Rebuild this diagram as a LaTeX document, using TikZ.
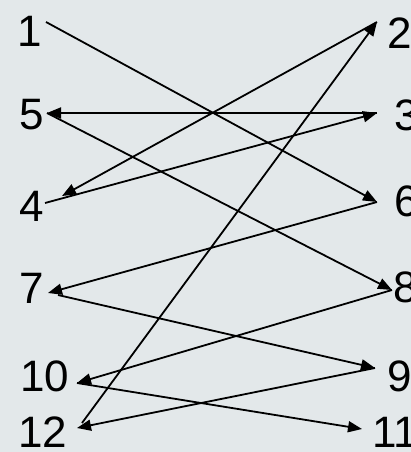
\documentclass[tikz,border=0pt]{standalone}
\usepackage{fontspec}
\setmainfont{Liberation Sans}
\usetikzlibrary{arrows.meta}
\definecolor{bgcol}{RGB}{227,232,234}
\begin{document}
\begin{tikzpicture}[x=1pt,y=-1pt,
  num/.style={inner sep=0pt,font=\fontsize{44}{44}\selectfont},
  link/.style={line width=1.8pt,-{Triangle[length=14pt,width=11pt]}}]
\fill[bgcol] (0,0) rectangle (411,452);
\useasboundingbox (0,0) rectangle (411,452);
% left labels
\node[num] (n1) at (30,31) {1};
\node[num] (n5) at (32,115) {5};
\node[num] (n4) at (32,206) {4};
\node[num] (n7) at (32,288) {7};
\node[num] (n10) at (45,376) {10};
\node[num] (n12) at (43,432) {12};
% right labels
\node[num,anchor=west] (n2) at (387,33) {2};
\node[num,anchor=west] (n3) at (394,115) {3};
\node[num,anchor=west] (n6) at (394,201) {6};
\node[num,anchor=west] (n8) at (393,287) {8};
\node[num,anchor=west] (n9) at (387,376) {9};
\node[num,anchor=west] (n11) at (372,432) {11};
% ports
\coordinate (p1) at (46,22);
\coordinate (p5) at (47,113);
\coordinate (p4a) at (62,196);
\coordinate (p4b) at (45,203);
\coordinate (p7a) at (48,293);
\coordinate (p7b) at (58,295);
\coordinate (p10) at (77,383);
\coordinate (p12a) at (77,428);
\coordinate (p12b) at (82,423);
\coordinate (p2) at (377,22);
\coordinate (p3) at (377,113);
\coordinate (p6) at (377,202);
\coordinate (p8) at (392,290);
\coordinate (p9) at (375,368);
\coordinate (p11) at (362,429);
% path 1-6-7-9-12-2-4-3-5-8-10-11
\draw[link] (p1) -- (p6);
\draw[link] (p6) -- (p7a);
\draw[link] (p7b) -- (p9);
\draw[link] (p9) -- (p12a);
\draw[link] (p12b) -- (p2);
\draw[link] (p2) -- (p4a);
\draw[link] (p4b) -- (p3);
\draw[link] (p3) -- (p5);
\draw[link] (p5) -- (p8);
\draw[link] (p8) -- (p10);
\draw[link] (p10) -- (p11);
\end{tikzpicture}
\end{document}
